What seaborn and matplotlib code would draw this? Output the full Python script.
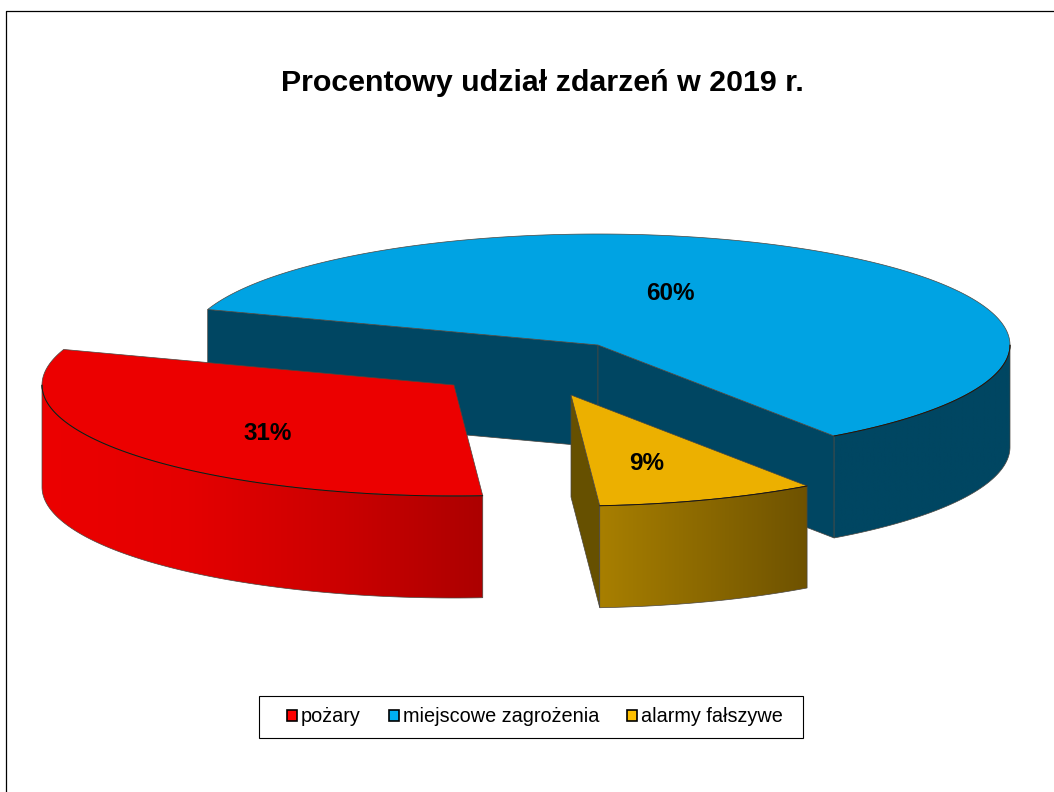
import numpy as np
import matplotlib
matplotlib.use("Agg")
import matplotlib.pyplot as plt
from matplotlib.patches import Patch, Polygon, Rectangle
import seaborn as sns

# Data
labels = ["pożary", "miejscowe zagrożenia", "alarmy fałszywe"]
shares = [31.3, 60.1, 8.6]

# Colours
top_colors = ["#EC0000", "#00A3E3", "#ECB000"]
legend_colors = ["#FF0000", "#00B0F0", "#FFC000"]
side_colors = [["#EC0000", "#E40000", "#CC0000", "#AC0000"],
               ["#004662", "#004662"],
               ["#A87F00", "#6E5200"]]
cut_colors = ["#AC0000", "#004662", "#665000"]
edge = "#4a4640"
rim_edge = "#1c140c"

# Layout, in pixels of the 1054x792 picture
a, b, depth = 412, 111, 102
start_angle = 274.0
centers = [(454, 385), (598, 345), (571, 395)]
text_pos = [(268, 433), (670, 293), (647, 463)]


def rim(center, theta, drop=0):
    # point on the pie ellipse, theta in degrees, y axis pointing down
    t = np.radians(theta)
    return np.column_stack([center[0] + a * np.cos(t), center[1] - b * np.sin(t) + drop])


def flat_face(ax, pts, color, z):
    ax.add_patch(Polygon(pts, closed=True, facecolor=color, edgecolor=edge, lw=0.5, zorder=z))


def outer_side(ax, center, t1, t2, colors, z):
    # the curved wall under the rim, only the part facing the viewer
    lo, hi = max(t1, 180), min(t2, 360)
    if t2 <= 180:
        lo, hi = max(t1 + 360, 180), min(t2 + 360, 360)
    if lo >= hi:
        return
    th = np.linspace(lo, hi, 120)
    top = rim(center, th)
    bottom = rim(center, th, depth)
    pts = np.vstack([top, bottom[::-1]])
    cmap = sns.blend_palette(colors, as_cmap=True)
    img = ax.imshow(np.linspace(0, 1, 256)[None, :], cmap=cmap, aspect="auto", zorder=z,
                    extent=[pts[:, 0].min(), pts[:, 0].max(), pts[:, 1].max(), pts[:, 1].min()])
    outline = Polygon(pts, closed=True, facecolor="none", edgecolor=edge, lw=0.5, zorder=z + 0.1)
    ax.add_patch(outline)
    img.set_clip_path(outline)
    # darker line where the wall meets the top
    ax.plot(top[:, 0], top[:, 1], color=rim_edge, lw=0.7, zorder=z + 0.4)


sns.set_theme(style="white")
plt.rcParams["font.family"] = ["Liberation Sans", "DejaVu Sans"]

fig = plt.figure(figsize=(10.54, 7.92), dpi=100)
ax = fig.add_axes([0, 0, 1, 1])

# slices go clockwise from the start angle
ends = start_angle - np.cumsum(shares) * 3.6
starts = np.r_[start_angle, ends[:-1]]

order = [1, 0, 2]  # blue sits behind the two pulled out slices
for n, i in enumerate(order):
    c = np.array(centers[i], dtype=float)
    z = 2 + n * 2
    t_hi, t_lo = starts[i], ends[i]
    down = np.array([0, depth])

    if i == 1:
        # both cut faces of the big slice can be seen
        for t in (t_hi, t_lo):
            p = rim(c, [t])[0]
            flat_face(ax, [c, p, p + down, c + down], cut_colors[i], z)
    if i == 2:
        p = rim(c, [t_lo])[0]
        flat_face(ax, [c, p, p + down, c + down], cut_colors[i], z)

    th = np.linspace(t_lo, t_hi, 200)
    flat_face(ax, np.vstack([c, rim(c, th)]), top_colors[i], z + 0.1)
    outer_side(ax, c, t_lo, t_hi, side_colors[i], z + 0.2)

    ax.text(*text_pos[i], f"{round(shares[i])}%", ha="center", va="center",
            fontsize=17.5, fontweight="bold", color="black", zorder=20)

ax.set_xlim(0, 1054)
ax.set_ylim(792, 0)
ax.axis("off")

# page border, top and left only
ax.plot([6, 6, 1054], [792, 10.5, 10.5], color="black", lw=0.9, clip_on=False, zorder=1)

ax.text(542, 83, "Procentowy udział zdarzeń w 2019 r.", ha="center", va="center",
        fontsize=21.9, fontweight="bold", color="black")

# legend box is wider than the entries, so it gets its own frame
ax.add_patch(Rectangle((259, 696), 544, 42, facecolor="white", edgecolor="black",
                       lw=0.8, zorder=21))
handles = [Patch(facecolor=col, edgecolor="black", lw=1.2, label=lab)
           for col, lab in zip(legend_colors, labels)]
leg = ax.legend(handles=handles, ncol=3, loc="center", bbox_to_anchor=(535, 717),
                bbox_transform=ax.transData, fontsize=14.3, frameon=False, labelcolor="black",
                handlelength=0.5, handleheight=0.5, handletextpad=0.2,
                columnspacing=1.4, borderpad=0, borderaxespad=0)
leg.set_zorder(22)

fig.savefig("out.png", dpi=100)
